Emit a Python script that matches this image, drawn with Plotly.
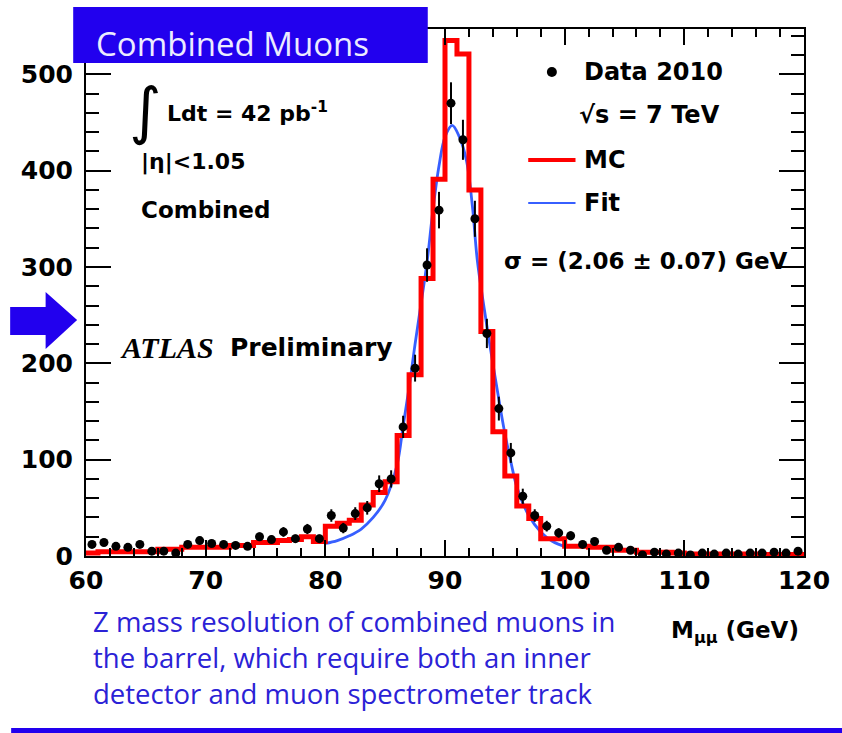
import numpy as np
import plotly.graph_objects as go

# ---------------- data ----------------
bin_low = list(range(60, 120))  # 1 GeV bins, lower edges
mc_counts = [3, 4.5, 4.5, 4.5, 4.5, 4.5, 7, 7, 9, 9,
             9, 9, 11, 11, 14, 14, 16, 17, 20, 15,
             31, 34, 37, 53, 66, 77, 125, 188, 288, 391,
             535, 521, 380, 233, 129, 83, 52, 39, 18, 18,
             10, 10, 9, 9, 6, 6, 4, 4, 4, 3,
             2, 2, 2, 2, 2, 2, 1.5, 1.5, 1.5, 1.5]
data_centers = [b + 0.5 for b in bin_low]
data_counts = [12, 14, 10, 9, 12, 5, 5, 3, 12, 16,
               13, 12, 11, 10, 20, 17, 25, 18, 28, 18,
               42, 29, 44, 50, 75, 80, 134, 195, 302, 359,
               470, 432, 350, 231, 153, 107, 62, 42, 31, 24,
               21, 12, 15, 6, 9, 6, 1, 4, 2, 3,
               1, 3, 2, 3, 2, 3, 3, 4, 3, 5]
fit_mass = [80, 81, 82, 83, 84, 85, 86, 86.5, 87, 87.5, 88, 88.5, 89, 89.5, 90,
            90.6, 91.2, 91.8, 92.3, 92.7, 93.3, 93.8, 94.4, 94.9, 95.5, 96, 97, 98, 99, 100]
fit_values = [13, 16, 21, 28, 40, 58, 95, 135, 175, 220, 262, 305, 360, 405, 435,
              447, 435, 410, 362, 307, 255, 215, 170, 134, 98, 72, 42, 25, 15, 10]
x_ticks = [60, 70, 80, 90, 100, 110, 120]
x_tick_labels = ["60", "70", "80", "90", "100", "110", "120"]
y_ticks = [0, 100, 200, 300, 400, 500]
y_tick_labels = ["0", "100", "200", "300", "400", "500"]

# ---------------- layout geometry ----------------
W, H = 842, 733
L, R, T, B = 86, 815, 29, 556
PW, PH = R - L, B - T


def px(xp):
    return (xp - L) / PW


def py(yp):
    return (B - yp) / PH


BLUE = "#2200ee"
FIT_BLUE = "rgb(55,95,255)"
FONT = "DejaVu Sans"

fig = go.Figure()
fig.add_trace(go.Scatter(x=fit_mass, y=fit_values, mode="lines",
                         line=dict(color=FIT_BLUE, width=2.8, shape="spline"),
                         showlegend=False, hoverinfo="skip"))
fig.add_trace(go.Scatter(x=bin_low + [120], y=mc_counts + [mc_counts[-1]], mode="lines",
                         line=dict(color="#ff0000", width=5, shape="hv"),
                         showlegend=False))
fig.add_trace(go.Scatter(x=data_centers, y=data_counts, mode="markers",
                         marker=dict(color="black", size=9),
                         error_y=dict(type="data", array=np.sqrt(np.array(data_counts, dtype=float)),
                                      color="black", thickness=2, width=0),
                         showlegend=False))

axis_common = dict(showline=True, linecolor="black", linewidth=2, mirror="ticks",
                   ticks="inside", tickcolor="black", tickwidth=1.5,
                   showgrid=False, zeroline=False,
                   tickfont=dict(family=FONT, size=25, color="black", weight="bold"))
fig.update_xaxes(range=[60, 120], tickmode="array", tickvals=x_ticks, ticktext=x_tick_labels,
                 ticklen=16, ticklabelstandoff=1,
                 minor=dict(tickmode="linear", tick0=60, dtick=2, ticklen=8, ticks="inside",
                            tickcolor="black", tickwidth=1.5, showgrid=False),
                 **axis_common)
fig.update_yaxes(range=[0, 547], tickmode="array", tickvals=y_ticks, ticktext=y_tick_labels,
                 ticklen=25, ticklabelstandoff=6,
                 minor=dict(tickmode="linear", tick0=0, dtick=20, ticklen=13, ticks="inside",
                            tickcolor="black", tickwidth=1.5, showgrid=False),
                 **axis_common)

shapes = []
annotations = []

# title box
shapes.append(dict(type="rect", xref="paper", yref="paper", x0=px(73), x1=px(433), y0=py(63), y1=py(7),
                   fillcolor=BLUE, line=dict(width=0), layer="above"))
annotations.append(dict(text="Combined Muons", xref="paper", yref="paper", x=px(94), y=py(43),
                        xanchor="left", yanchor="middle", showarrow=False,
                        font=dict(family="Open Sans", size=33, color="#ecebff")))

# arrow on the left
arrow_pts = [(9, 307), (45, 307), (45, 292), (77, 320), (45, 349), (45, 335), (9, 335)]
path = "M " + " L ".join(f"{px(a):.5f},{py(b):.5f}" for a, b in arrow_pts) + " Z"
shapes.append(dict(type="path", xref="paper", yref="paper", path=path,
                   fillcolor=BLUE, line=dict(width=0), layer="above"))

# bottom rule
shapes.append(dict(type="rect", xref="paper", yref="paper", x0=px(10), x1=px(870), y0=py(733), y1=py(728),
                   fillcolor=BLUE, line=dict(width=0), layer="above"))

# legend
shapes.append(dict(type="circle", xref="paper", yref="paper", xsizemode="pixel", ysizemode="pixel",
                   xanchor=px(559), yanchor=py(72), x0=-5, x1=5, y0=-5, y1=5,
                   fillcolor="black", line=dict(width=0)))
shapes.append(dict(type="line", xref="paper", yref="paper", x0=px(535), x1=px(583), y0=py(160), y1=py(160),
                   line=dict(color="#ff0000", width=4)))
shapes.append(dict(type="line", xref="paper", yref="paper", x0=px(535), x1=px(583), y0=py(203), y1=py(203),
                   line=dict(color=FIT_BLUE, width=2)))


def txt(s, xp, yp, size=23, family=FONT, color="black", anchor="left", weight="normal", style="normal"):
    annotations.append(dict(text=s, xref="paper", yref="paper", x=px(xp), y=py(yp),
                            xanchor=anchor, yanchor="middle", showarrow=False,
                            font=dict(family=family, size=size, color=color, weight=weight, style=style)))


txt("Data 2010", 590, 72, 24, weight="bold")
txt("√s = 7 TeV", 585, 115, 24, weight="bold")
txt("MC", 590, 160, 24, weight="bold")
txt("Fit", 590, 203, 24, weight="bold")
txt("σ = (2.06 ± 0.07) GeV", 508, 261, 23, weight="bold")

txt("∫", 146, 110, 62, anchor="center")
txt("Ldt = 42 pb<sup>-1</sup>", 166, 112, 22, weight="bold")
txt("|η|<1.05", 140, 162, 22, weight="bold")
txt("Combined", 140, 210, 23, weight="bold")
txt("ATLAS", 118, 347, 30, family="Liberation Serif", weight="bold", style="italic")
txt("Preliminary", 230, 347, 25, weight="bold")

txt("M<sub>μμ</sub> (GeV)", 812, 632, 23, anchor="right", weight="bold")

CAP = "#2b22d6"
txt("Z mass resolution of combined muons in", 91, 621, 27.5, family="Open Sans", color=CAP)
txt("the barrel, which require both an inner", 91, 657, 27.5, family="Open Sans", color=CAP)
txt("detector and muon spectrometer track", 91, 693, 27.5, family="Open Sans", color=CAP)

fig.update_layout(width=W, height=H, margin=dict(l=L, r=W - R, t=T, b=H - B, pad=0),
                  paper_bgcolor="white", plot_bgcolor="white",
                  shapes=shapes, annotations=annotations, showlegend=False)

fig.write_html("out.html", config={"displayModeBar": False},
               post_script="document.body.style.margin='0px';document.body.style.overflow='hidden';")
